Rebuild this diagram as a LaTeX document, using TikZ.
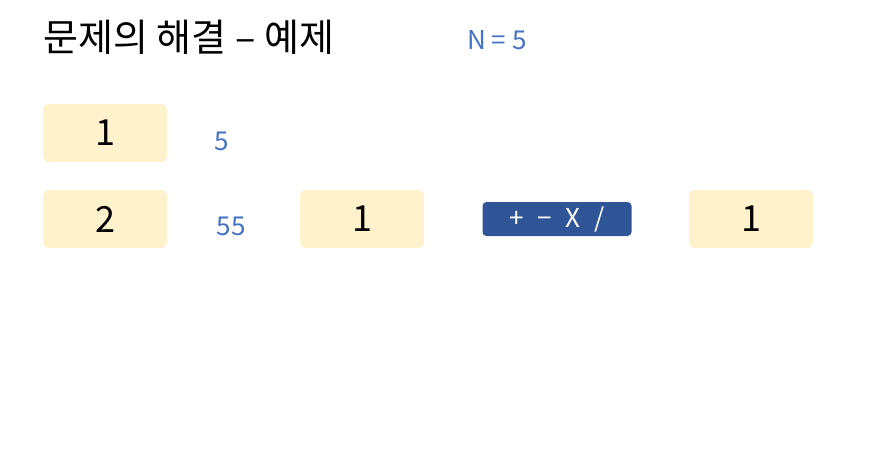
\documentclass[tikz,border=0pt]{standalone}
\usepackage{fontspec}
\setmainfont{Noto Sans CJK KR}
\usepackage{xcolor}
\usepackage{tikz}
\definecolor{boxfill}{HTML}{FFF2CC}
\definecolor{numblue}{HTML}{4472C4}
\definecolor{opblue}{HTML}{2F5597}
\tikzset{
    numbox/.style={fill=boxfill, rounded corners=3pt, minimum width=62pt, minimum height=29pt, inner sep=0pt, font=\fontsize{18}{20}\selectfont},
    count/.style={text=numblue, inner sep=0pt, font=\fontsize{13}{15}\selectfont},
    opbox/.style={fill=opblue, rounded corners=2pt, minimum width=74.5pt, minimum height=17pt, inner sep=0pt, text=white, font=\fontsize{13}{15}\selectfont}
}
\begin{document}
\begin{tikzpicture}[x=0.5pt, y=-0.5pt]
    \useasboundingbox (0,0) rectangle (879,451);
    % Title
    \node[anchor=west, inner sep=0pt, font=\fontsize{19}{21}\selectfont] (title) at (43, 37) {문제의 해결 – 예제};
    \node[count] (n) at (497, 40) {N = 5};
    % First row
    \node[numbox] (one) at (105, 133) {1};
    \node[count] (five) at (222, 141) {5};
    % Second row
    \node[numbox] (two) at (105, 219) {2};
    \node[count] (fiftyfive) at (231, 226) {55};
    \node[numbox] (left) at (362, 219) {1};
    \node[opbox] (op) at (557, 219) {+\hspace{7pt}−\hspace{7pt}X\hspace{7pt}/};
    \node[numbox] (right) at (751, 219) {1};
\end{tikzpicture}
\end{document}
